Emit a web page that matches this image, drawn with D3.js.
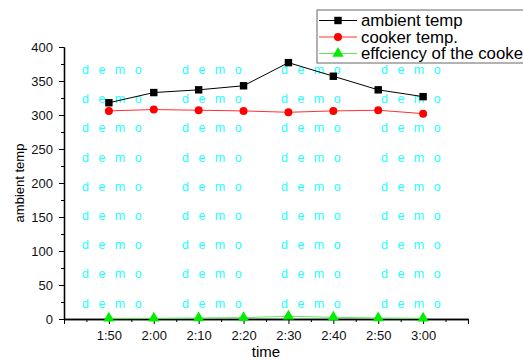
<!DOCTYPE html>
<html>
<head>
<meta charset="utf-8">
<script src="https://cdn.jsdelivr.net/npm/d3@7"></script>
<style>
  body { margin: 0; background: #fff; }
  text { font-family: "Liberation Sans", Arial, sans-serif; }
</style>
</head>
<body>
<div class="chart-container"></div>
<script>
//! DATA
const times = ['1:50', '2:00', '2:10', '2:20', '2:30', '2:40', '2:50', '3:00']
const ambientTemp = [318, 333, 337, 343, 377, 357, 337, 327]
const cookerTemp = [306, 308, 307, 306, 304, 306, 307, 302]
const efficiency = [1, 1, 1.5, 2, 4, 2.5, 1.5, 1]
const xTickLabels = ['', '1:50', '2:00', '2:10', '2:20', '2:30', '2:40', '2:50', '3:00', '']
const yTicks = [0, 50, 100, 150, 200, 250, 300, 350, 400]
const seriesNames = ['ambient temp', 'cooker temp.', 'effciency of the cooker']

//! CONSTS
const WIDTH = 523
const HEIGHT = 360
const PLOT_L = 64, PLOT_R = 468, PLOT_T = 47, PLOT_B = 319

const toMin = s => { const p = s.split(':'); return +p[0] * 60 + +p[1] }

const svg = d3.select('.chart-container')
  .append('svg')
  .attr('width', WIDTH)
  .attr('height', HEIGHT)

//! SCALES
const xScale = d3.scaleLinear().domain([100, 190]).range([PLOT_L, PLOT_R])
const yScale = d3.scaleLinear().domain([0, 400]).range([PLOT_B, PLOT_T])

//! WATERMARK
const wmCols = [82, 182, 281, 381]
const wmRows = d3.range(9).map(i => 74 + i * 29.2)
wmRows.forEach(y => wmCols.forEach(x => {
  svg.append('text')
    .attr('x', x).attr('y', y)
    .attr('fill', '#22ffff')
    .attr('font-size', 12.5)
    .attr('letter-spacing', 3)
    .text('d e m o')
}))

//! AXES
const xAxis = d3.axisBottom(xScale)
  .tickValues(d3.range(100, 191, 10))
  .tickFormat((d, i) => xTickLabels[i])
  .tickSize(5).tickSizeOuter(0)
const xMinor = d3.axisBottom(xScale)
  .tickValues(d3.range(105, 190, 10)).tickFormat('').tickSize(3).tickSizeOuter(0)

const yAxis = d3.axisLeft(yScale)
  .tickValues(yTicks).tickSize(5).tickSizeOuter(0)
const yMinor = d3.axisLeft(yScale)
  .tickValues(d3.range(25, 400, 50)).tickFormat('').tickSize(3).tickSizeOuter(0)

const gx = svg.append('g').attr('transform', `translate(0,${PLOT_B})`).call(xAxis)
svg.append('g').attr('transform', `translate(0,${PLOT_B})`).call(xMinor)
const gy = svg.append('g').attr('transform', `translate(${PLOT_L},0)`).call(yAxis)
svg.append('g').attr('transform', `translate(${PLOT_L},0)`).call(yMinor)

svg.selectAll('.domain').attr('stroke', '#000').attr('stroke-width', 1.3)
svg.selectAll('.tick line').attr('stroke', '#000')
gx.selectAll('text').attr('font-size', 13).attr('fill', '#111').attr('dy', '1em')
gy.selectAll('text').attr('font-size', 13).attr('fill', '#111').attr('dy', '0.35em').attr('x', -11)
svg.selectAll('.tick text').style('font-family', '"Liberation Sans", Arial, sans-serif')

svg.append('text')
  .attr('x', (PLOT_L + PLOT_R) / 2).attr('y', 357)
  .attr('text-anchor', 'middle').attr('font-size', 15)
  .text('time')
svg.append('text')
  .attr('transform', `translate(24,${(PLOT_T + PLOT_B) / 2}) rotate(-90)`)
  .attr('text-anchor', 'middle').attr('font-size', 13)
  .text('ambient temp')

//! LINES
const line = d3.line().x((d, i) => xScale(toMin(times[i]))).y(d => yScale(d))

const series = [
  { values: ambientTemp, color: '#000', lineColor: '#000', shape: d3.symbolSquare },
  { values: cookerTemp, color: '#ff0000', lineColor: '#ff3030', shape: d3.symbolCircle },
  { values: efficiency, color: '#00ee00', lineColor: '#55ee55', shape: d3.symbolTriangle }
]

series.forEach(s => {
  svg.append('path')
    .datum(s.values)
    .attr('d', line)
    .attr('fill', 'none')
    .attr('stroke', s.lineColor)
    .attr('stroke-width', 1)
  svg.selectAll(null)
    .data(s.values)
    .enter()
    .append('path')
    .attr('d', d3.symbol().type(s.shape).size(s.shape === d3.symbolCircle ? 50 : 55))
    .attr('transform', (d, i) => `translate(${xScale(toMin(times[i]))},${yScale(d)})`)
    .attr('fill', s.color)
})

//! LEGEND
svg.append('rect')
  .attr('x', 317).attr('y', 10).attr('width', 220).attr('height', 53)
  .attr('fill', '#fff').attr('stroke', '#666').attr('stroke-width', 1)
series.forEach((s, i) => {
  const y = 20.5 + i * 16.5
  svg.append('line')
    .attr('x1', 319).attr('x2', 357).attr('y1', y).attr('y2', y)
    .attr('stroke', s.lineColor)
  svg.append('path')
    .attr('d', d3.symbol().type(s.shape).size(s.shape === d3.symbolCircle ? 50 : 55))
    .attr('transform', `translate(338,${y})`)
    .attr('fill', s.color)
  svg.append('text')
    .attr('x', 361).attr('y', y).attr('dy', '0.35em')
    .attr('font-size', 16.8)
    .text(seriesNames[i])
})
</script>
</body>
</html>
